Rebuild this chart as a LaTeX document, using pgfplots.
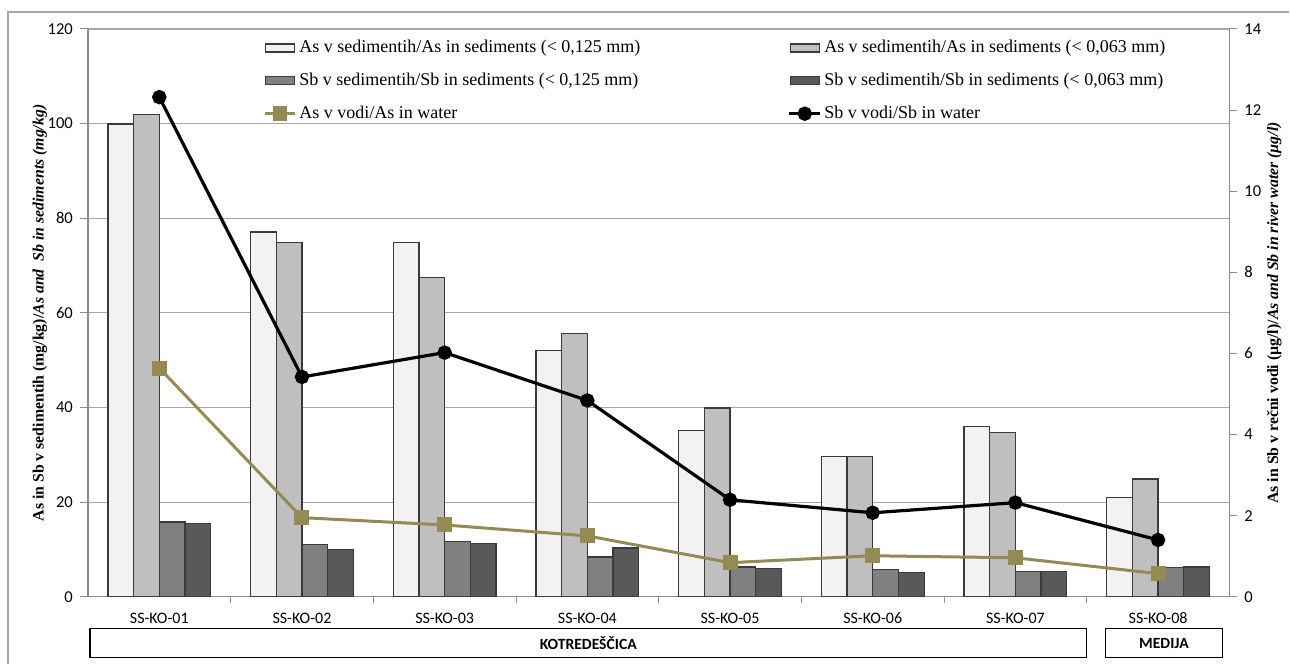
\documentclass[border=0pt]{standalone}
\usepackage{pgfplots}
\usepackage{pgfplotstable}
\pgfplotsset{compat=1.18}
\usepackage{fontspec}
\setmainfont{Liberation Serif}
\newfontfamily\calibri{Carlito}

\definecolor{asfine}{HTML}{F2F2F2}
\definecolor{ascoarse}{HTML}{BFBFBF}
\definecolor{sbfine}{HTML}{808080}
\definecolor{sbcoarse}{HTML}{595959}
\definecolor{aswater}{HTML}{948A54}
\definecolor{axisgray}{HTML}{8C8C8C}
\definecolor{gridgray}{HTML}{A6A6A6}
\definecolor{baredge}{HTML}{3A3A3A}

% sediment concentrations (mg/kg) and water concentrations (ug/l) per site
\pgfplotstableread{
x  asA   asB   sbA   sbB   asw   sbw
0  99.9  102.0 15.8  15.4  5.64  12.32
1  77.1  74.8  11.0  9.9   1.95  5.42
2  74.9  67.4  11.7  11.2  1.77  6.02
3  52.0  55.6  8.4   10.3  1.50  4.84
4  35.1  39.9  6.3   5.9   0.84  2.39
5  29.6  29.6  5.7   5.1   1.01  2.07
6  36.0  34.7  5.3   5.3   0.96  2.32
7  20.9  24.9  6.1   6.3   0.57  1.40
}\sites

\pgfplotsset{
  common/.style={
    scale only axis, width=571pt, height=284pt,
    at={(0,0)}, anchor=south west,
    xmin=-0.5, xmax=7.5,
    tick align=outside,
    major tick length=4pt,
    tick style={axisgray, line width=0.5pt},
    axis line style={axisgray, line width=0.6pt},
    ticklabel style={font=\calibri\fontsize{8.3}{9}\selectfont, text=black},
    /pgf/number format/assume math mode=true,
    label style={font=\fontsize{7.9}{10}\selectfont},
  },
  barleg/.style={legend image code/.code={
    \draw[##1, line width=0.6pt] (0pt,-2pt) rectangle (14.5pt,2pt);}},
  lineleg/.style={legend image code/.code={
    \draw[mark repeat=2, mark phase=2, ##1]
      plot coordinates {(-0.5pt,0pt) (7.25pt,0pt) (15pt,0pt)};}},
}

\begin{document}
\begin{tikzpicture}
% frame around the figure
\path (-44pt,-33.5pt) rectangle (601pt,298.5pt);
\draw[gridgray, line width=0.6pt] (-40pt,-33.5pt) -- (-40pt,292.5pt) -- (601pt,292.5pt);

\begin{axis}[common,
  ymin=0, ymax=120, ytick={0,20,...,120},
  axis x line*=bottom, axis y line*=left,
  ymajorgrids, grid style={gridgray, line width=0.6pt},
  xtick={0,...,7},
  xticklabels={SS-KO-01,SS-KO-02,SS-KO-03,SS-KO-04,SS-KO-05,SS-KO-06,SS-KO-07,SS-KO-08},
  x tick style={draw=none},
  xticklabel style={font=\calibri\fontsize{8}{9}\selectfont, yshift=-0.5pt},
  extra x ticks={0.5,1.5,...,6.5},
  extra x tick labels={},
  extra x tick style={x tick style={draw=axisgray, line width=0.5pt}, major tick length=3pt},
  ylabel={\textbf{As in Sb v sedimentih (mg/kg)/}\textbf{\textit{As and\ \ Sb in sediments (mg/kg)}}},
  ylabel style={at={(axis description cs:-0.042,0.5)}, anchor=center},
  ybar=0pt, bar width=12.85pt,
  every axis plot/.append style={draw=baredge, line width=0.6pt},
]
\addplot[fill=asfine]   table[x=x, y=asA] {\sites};
\addplot[fill=ascoarse] table[x=x, y=asB] {\sites};
\addplot[fill=sbfine]   table[x=x, y=sbA] {\sites};
\addplot[fill=sbcoarse] table[x=x, y=sbB] {\sites};
\end{axis}

\begin{axis}[common,
  ymin=0, ymax=14, ytick={0,2,...,14},
  axis x line=none, axis y line*=right,
  ylabel={\textbf{As in Sb v rečni vodi (µg/l)/}\textbf{\textit{As and Sb in river water (µg/l)}}},
  ylabel style={at={(axis description cs:1.0394,0.5)}, anchor=center},
  legend columns=2,
  legend cell align=left,
  legend style={at={(0.153,0.988)}, anchor=north west, draw=none, fill=none,
    font=\fontsize{9}{10}\selectfont, row sep=4.7pt,
    nodes={inner xsep=1.2pt},
    /tikz/every even column/.append style={column sep=72.5pt},
    inner sep=0pt},
]
\addlegendimage{barleg, fill=asfine, draw=baredge}
\addlegendentry{As v sedimentih/As in sediments (< 0,125 mm)}
\addlegendimage{barleg, fill=ascoarse, draw=baredge}
\addlegendentry{As v sedimentih/As in sediments (< 0,063 mm)}
\addlegendimage{barleg, fill=sbfine, draw=baredge}
\addlegendentry{Sb v sedimentih/Sb in sediments (< 0,125 mm)}
\addlegendimage{barleg, fill=sbcoarse, draw=baredge}
\addlegendentry{Sb v sedimentih/Sb in sediments (< 0,063 mm)}
\addplot[lineleg, aswater, line width=1.5pt, mark=square*, mark size=3pt,
  mark options={aswater}] table[x=x, y=asw] {\sites};
\addlegendentry{As v vodi/As in water}
\addplot[lineleg, black, line width=1.6pt, mark=*, mark size=2.8pt] table[x=x, y=sbw] {\sites};
\addlegendentry{Sb v vodi/Sb in water}
\end{axis}

% river groups under the site labels
\draw[black, line width=0.6pt] (1pt,-16pt) rectangle (499.5pt,-30.5pt);
\node[font=\calibri\bfseries\fontsize{7.8}{9}\selectfont] at (250.25pt,-23.25pt) {KOTREDEŠČICA};
\draw[black, line width=0.6pt] (509pt,-16pt) rectangle (567.5pt,-30.5pt);
\node[font=\calibri\bfseries\fontsize{7.8}{9}\selectfont] at (538.25pt,-23.25pt) {MEDIJA};
\end{tikzpicture}
\end{document}
